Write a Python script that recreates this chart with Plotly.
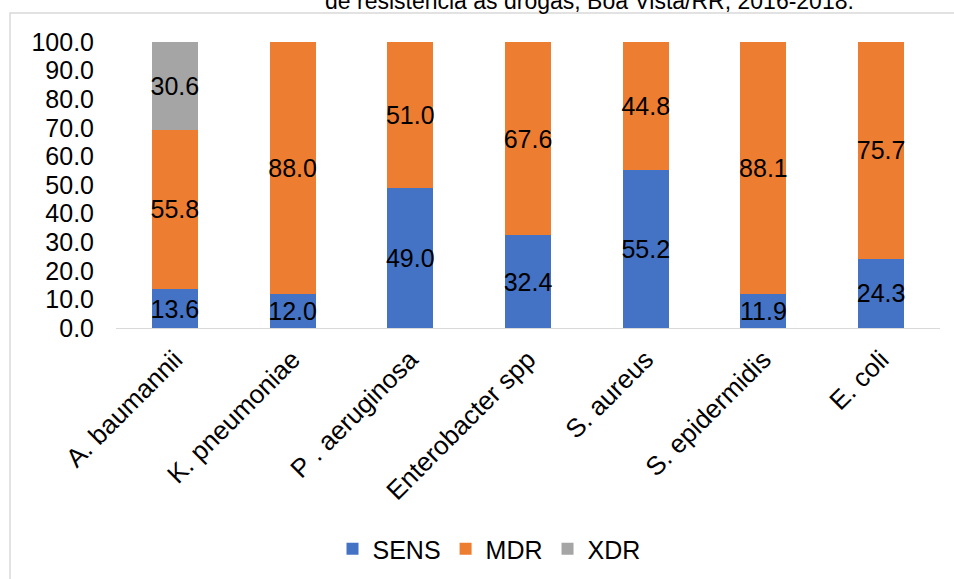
import plotly.graph_objects as go

categories = ["A. baumannii", "K. pneumoniae", "P . aeruginosa", "Enterobacter spp",
              "S. aureus", "S. epidermidis", "E. coli"]
sens = [13.6, 12.0, 49.0, 32.4, 55.2, 11.9, 24.3]
mdr = [55.8, 88.0, 51.0, 67.6, 44.8, 88.1, 75.7]
xdr = [30.6, None, None, None, None, None, None]
y_ticks = [0, 10, 20, 30, 40, 50, 60, 70, 80, 90, 100]
title_line = "de resistência às drogas, Boa Vista/RR, 2016-2018."

W, H = 954, 579
L, R, T, B = 116, 14, 42, 251
pw, ph = W - L - R, H - T - B

font = "Liberation Sans, Arial, sans-serif"
FS = 25

def fmt(vals):
    return [None if v is None else f"{v:.1f}" for v in vals]

fig = go.Figure()
for name, vals, color in [("SENS", sens, "#4472C4"), ("MDR", mdr, "#ED7D31"), ("XDR", xdr, "#A5A5A5")]:
    fig.add_trace(go.Bar(
        x=categories, y=vals, name=name, marker_color=color,
        marker_line_width=0,
        text=fmt(vals), textposition="inside", insidetextanchor="middle",
        textangle=0, constraintext="none",
        textfont=dict(family=font, size=FS, color="#000000"),
        hoverinfo="skip",
    ))

def px_x(p):
    return (p - L) / pw

def px_y(p):
    return (H - B - p) / ph

fig.update_layout(
    width=W, height=H, barmode="stack", bargap=0.61,
    margin=dict(l=L, r=R, t=T, b=B, autoexpand=False),
    paper_bgcolor="white", plot_bgcolor="white",
    font=dict(family=font, size=FS, color="#000000"),
    showlegend=True,
    legend=dict(orientation="h", x=px_x(489), xanchor="center", y=px_y(549), yanchor="middle",
                font=dict(size=FS, family=font), traceorder="normal", itemwidth=30),
    xaxis=dict(showline=True, linecolor="#d9d9d9", linewidth=1, ticks="", tickangle=-45,
               ticklabelstandoff=5,
               tickfont=dict(size=26, family=font), showgrid=False),
    yaxis=dict(range=[0, 100], tickvals=y_ticks, ticktext=[f"{v:.1f}" for v in y_ticks],
               showgrid=False, zeroline=False, showline=False, ticks="",
               ticklabelstandoff=21,
               tickfont=dict(size=FS, family=font)),
    shapes=[dict(type="rect", xref="paper", yref="paper",
                 x0=px_x(10), x1=px_x(1000), y0=px_y(640), y1=px_y(13),
                 line=dict(color="#d9d9d9", width=1.5), fillcolor="rgba(0,0,0,0)", layer="below")],
    annotations=[dict(text=title_line, xref="paper", yref="paper", x=px_x(589), y=px_y(13),
                      xanchor="center", yanchor="bottom", yshift=-3, showarrow=False,
                      font=dict(size=23, family=font, color="#000000"))],
)

fig.write_html("out.html")
